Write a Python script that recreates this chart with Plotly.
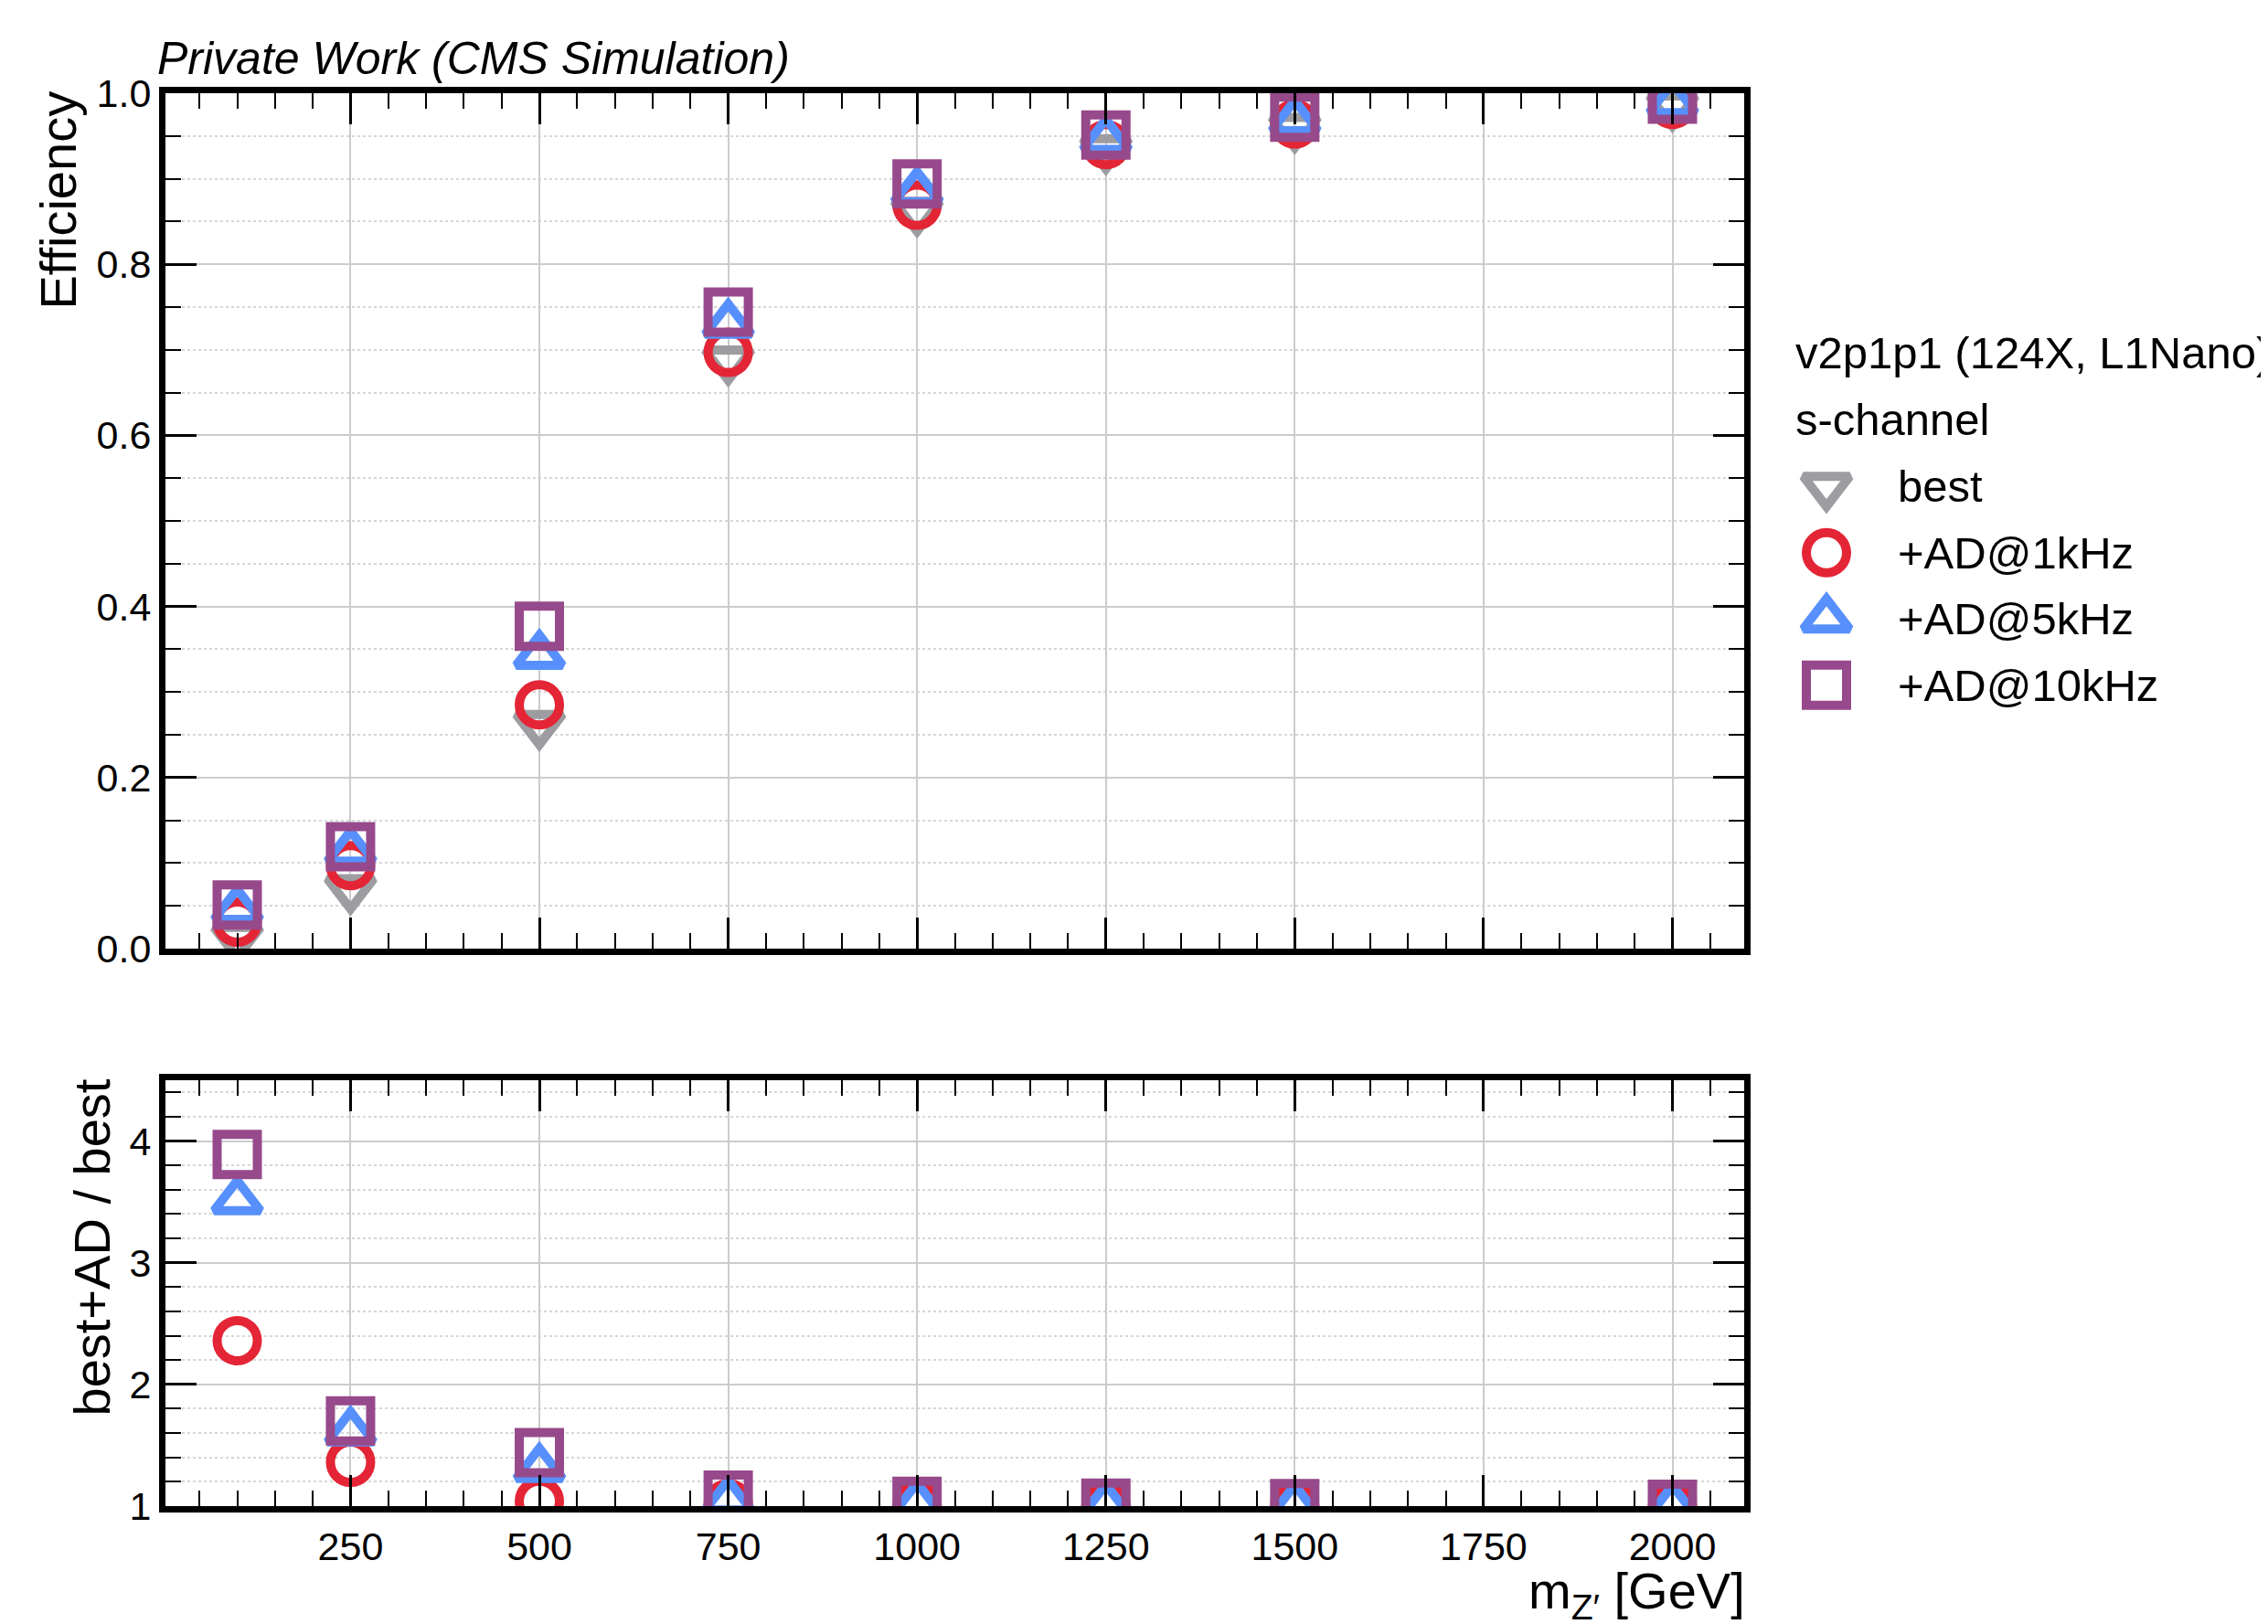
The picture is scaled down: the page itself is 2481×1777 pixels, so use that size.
import plotly.graph_objects as go

# ---------------- data ----------------
mass = [100, 250, 500, 750, 1000, 1250, 1500, 2000]

eff_best = [0.013, 0.070, 0.262, 0.688, 0.862, 0.935, 0.960, 0.985]
eff_ad1k = [0.031, 0.097, 0.285, 0.697, 0.869, 0.940, 0.964, 0.987]
eff_ad5k = [0.046, 0.114, 0.343, 0.730, 0.885, 0.946, 0.968, 0.989]
eff_ad10k = [0.051, 0.119, 0.377, 0.744, 0.894, 0.951, 0.972, 0.993]

ratio_ad1k = [2.36, 1.36, 1.04, 1.02, 1.01, 1.005, 1.003, 1.002]
ratio_ad5k = [3.51, 1.61, 1.31, 1.05, 1.025, 1.012, 1.008, 1.005]
ratio_ad10k = [3.89, 1.70, 1.44, 1.09, 1.04, 1.025, 1.02, 1.015]

series_names = ["best", "+AD@1kHz", "+AD@5kHz", "+AD@10kHz"]
legend_header = ["v2p1p1 (124X, L1Nano)", "s-channel"]

x_ticks = [250, 500, 750, 1000, 1250, 1500, 1750, 2000]
eff_ticks = [0.0, 0.2, 0.4, 0.6, 0.8, 1.0]
ratio_ticks = [1, 2, 3, 4]

# ---------------- styles ----------------
colors = ["#9c9ca1", "#e42536", "#5790fc", "#964a8b"]
symbols = ["triangle-down-open", "circle-open", "triangle-up-open", "square-open"]
sizes = [44, 44, 44, 44]
MLW = 10
FONT = "Liberation Sans, Arial, Helvetica, sans-serif"

W, H = 2481, 1777
OFF = 8  # page body margin


def px_x(p):
    return (p - OFF) / W


def px_y(p):
    return 1 - (p - OFF) / H


fig = go.Figure()

eff_series = [eff_best, eff_ad1k, eff_ad5k, eff_ad10k]
for i, ys in enumerate(eff_series):
    fig.add_trace(go.Scatter(
        x=mass, y=ys, mode="markers", name=series_names[i],
        xaxis="x", yaxis="y", showlegend=False,
        marker=dict(symbol=symbols[i], size=sizes[i], color=colors[i],
                    line=dict(width=MLW, color=colors[i])),
    ))

ratio_series = [ratio_ad1k, ratio_ad5k, ratio_ad10k]
for j, ys in enumerate(ratio_series):
    i = j + 1
    fig.add_trace(go.Scatter(
        x=mass, y=ys, mode="markers", name=series_names[i],
        xaxis="x2", yaxis="y2", showlegend=False,
        marker=dict(symbol=symbols[i], size=sizes[i], color=colors[i],
                    line=dict(width=MLW, color=colors[i])),
    ))

# manual legend (helper axis)
for i, name in enumerate(series_names):
    fig.add_trace(go.Scatter(
        x=[0], y=[i], mode="markers", name=name, xaxis="x3", yaxis="y3",
        showlegend=False, cliponaxis=False, hoverinfo="skip",
        marker=dict(symbol=symbols[i], size=sizes[i], color=colors[i],
                    line=dict(width=MLW, color=colors[i])),
    ))

XDOM = [px_x(181), px_x(1908)]
tickfont = dict(size=43, color="black", family=FONT)
common = dict(showline=True, linewidth=7, linecolor="black", mirror="allticks",
              ticks="inside", ticklen=34, tickwidth=3, tickcolor="black",
              tickfont=tickfont, zeroline=False, gridcolor="#cccccc", gridwidth=2,
              automargin=False)

xminor = dict(dtick=50, tick0=0, ticks="inside", ticklen=17, tickwidth=2,
              tickcolor="black", showgrid=False)

fig.update_layout(
    template="none",
    width=W, height=H, autosize=False,
    margin=dict(l=0, r=0, t=0, b=0, pad=0),
    paper_bgcolor="white", plot_bgcolor="white",
    font=dict(family=FONT, color="black"),
    xaxis=dict(domain=XDOM, anchor="y", range=[5, 2095], tickvals=x_ticks,
               showticklabels=False, showgrid=True, minor=xminor, **common),
    yaxis=dict(domain=[px_y(1038), px_y(102)], anchor="x", range=[0, 1],
               tickvals=eff_ticks, tickformat=".1f", showgrid=True,
               minor=dict(dtick=0.05, tick0=0, ticks="inside", ticklen=17,
                          tickwidth=2, tickcolor="black", showgrid=True,
                          griddash="dot", gridcolor="#d6d6d6", gridwidth=2),
               **common),
    xaxis2=dict(domain=XDOM, anchor="y2", range=[5, 2095], tickvals=x_ticks,
                showticklabels=True, showgrid=True, minor=xminor, **common),
    yaxis2=dict(domain=[px_y(1648), px_y(1182)], anchor="x2", range=[1, 4.5],
                tickvals=ratio_ticks, tickformat="d", showgrid=True,
                minor=dict(dtick=0.2, tick0=1, ticks="inside", ticklen=17,
                           tickwidth=2, tickcolor="black", showgrid=True,
                           griddash="dot", gridcolor="#d6d6d6", gridwidth=2),
                **common),
    xaxis3=dict(domain=[px_x(1960), px_x(2036)], anchor="y3", range=[-1, 1],
                visible=False, fixedrange=True, automargin=False),
    yaxis3=dict(domain=[px_y(786), px_y(496)], anchor="x3", range=[3.5, -0.5],
                visible=False, fixedrange=True, automargin=False),
)

ann = []
ann.append(dict(text="<i>Private Work (CMS Simulation)</i>", xref="paper", yref="paper",
                x=px_x(170), y=px_y(94), xanchor="left", yanchor="bottom",
                showarrow=False, font=dict(size=50, family=FONT)))
ann.append(dict(text="Efficiency", xref="paper", yref="paper", textangle=-90,
                x=px_x(63), y=px_y(98), xanchor="center", yanchor="top",
                showarrow=False, font=dict(size=56, family=FONT)))
ann.append(dict(text="best+AD / best", xref="paper", yref="paper", textangle=-90,
                x=px_x(100), y=px_y(1178), xanchor="center", yanchor="top",
                showarrow=False, font=dict(size=56, family=FONT)))
ann.append(dict(text="m<sub>Z′</sub> [GeV]", xref="paper", yref="paper",
                x=px_x(1910), y=px_y(1744), xanchor="right", yanchor="middle",
                showarrow=False, borderpad=0, font=dict(size=56, family=FONT)))
for k, t in enumerate(legend_header):
    ann.append(dict(text=t, xref="paper", yref="paper",
                    x=px_x(1962), y=px_y([386, 459][k]), xanchor="left", yanchor="middle",
                    showarrow=False, font=dict(size=49, family=FONT)))
for i, name in enumerate(series_names):
    ann.append(dict(text=name, xref="paper", yref="y3", x=px_x(2074), y=i,
                    xanchor="left", yanchor="middle", showarrow=False,
                    font=dict(size=49, family=FONT)))
fig.update_layout(annotations=ann)

fig.write_html("out.html")
